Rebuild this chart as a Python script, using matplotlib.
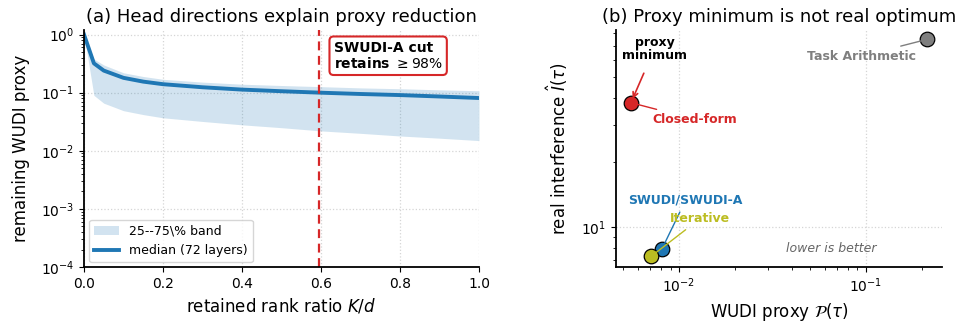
import matplotlib
matplotlib.use("Agg")
from matplotlib import pyplot as plt
from matplotlib import ticker

# Panel (a): remaining WUDI proxy vs retained rank ratio
ratio = [0, 0.025, 0.05, 0.1, 0.15, 0.2, 0.3, 0.4, 0.5, 0.6, 0.7, 0.8, 0.9, 1.0]
mediana = [1.0, 0.32, 0.24, 0.18, 0.155, 0.14, 0.124, 0.113, 0.106, 0.100, 0.095, 0.091, 0.086, 0.081]
q75 = [1.0, 0.38, 0.30, 0.22, 0.19, 0.17, 0.152, 0.14, 0.133, 0.127, 0.121, 0.117, 0.112, 0.108]
q25 = [1.0, 0.09, 0.066, 0.049, 0.042, 0.037, 0.032, 0.028, 0.025, 0.022, 0.020, 0.018, 0.0165, 0.015]
corte = 0.595

# Panel (b): proxy vs real interference
metodos = ["Task Arithmetic", "Closed-form", "SWUDI/SWUDI-A", "Iterative"]
proxy = [0.212, 0.00553, 0.0081, 0.0071]
real = [75.0, 38.0, 7.9, 7.3]
colores = ["#7f7f7f", "#d62728", "#1f77b4", "#bcbd22"]
# desplazamiento de las etiquetas (puntos)
offsets = [(-47, -12), (46, -12), (17, 35), (35, 27)]

azul = "#1f77b4"
rojo = "#d62728"

fig = plt.figure(figsize=(9.57, 3.33), dpi=100)
ax1 = fig.add_axes([0.0878, 0.198, 0.4127, 0.712])
ax2 = fig.add_axes([0.6437, 0.198, 0.3406, 0.712])

for ax in (ax1, ax2):
    ax.spines["top"].set_visible(False)
    ax.spines["right"].set_visible(False)
    ax.spines["left"].set_linewidth(1.3)
    ax.spines["bottom"].set_linewidth(1.3)
    ax.tick_params(labelsize=10)
    ax.grid(True, which="major", linestyle=":", color="#d5d5d5", linewidth=0.9)
    ax.set_axisbelow(True)

# ---- panel a
ax1.fill_between(ratio, q25, q75, color=azul, alpha=0.2, linewidth=0, label="25--75\\% band")
ax1.plot(ratio, mediana, color=azul, linewidth=2.8, label="median (72 layers)")
ax1.axvline(corte, color=rojo, linestyle="--", linewidth=1.6, dashes=(4, 2.5))
ax1.set_yscale("log")
ax1.set_xlim(0, 1.0)
ax1.set_ylim(1e-4, 1.2)
ax1.yaxis.set_minor_formatter(ticker.NullFormatter())
ax1.set_xlabel("retained rank ratio $K/d$", fontsize=12)
ax1.set_ylabel("remaining WUDI proxy", fontsize=12, labelpad=8)
ax1.set_title("(a) Head directions explain proxy reduction", fontsize=13)
ax1.text(0.632, 0.955, "SWUDI-A cut\nretains $\\geq 98\\%$", transform=ax1.transAxes,
         ha="left", va="top", fontsize=10, fontweight="bold", linespacing=1.1,
         bbox=dict(boxstyle="round,pad=0.3", fc="white", ec=rojo, lw=1.5))
ax1.legend(loc="lower left", fontsize=9, frameon=True, handlelength=2.0,
           borderaxespad=0.4, fancybox=True)

# ---- panel b
ax2.set_xscale("log")
ax2.set_yscale("log")
for i in range(len(metodos)):
    ax2.scatter(proxy[i], real[i], s=110, color=colores[i], edgecolor="black",
                linewidth=0.9, zorder=3)
    ax2.annotate(metodos[i], (proxy[i], real[i]), xytext=offsets[i],
                 textcoords="offset points", ha="center", va="center",
                 fontsize=9, fontweight="bold", color=colores[i],
                 arrowprops=dict(arrowstyle="-", color=colores[i], lw=1.0,
                                 shrinkA=2, shrinkB=4))
ax2.annotate("proxy\nminimum", (proxy[1], real[1]), xytext=(17, 39),
             textcoords="offset points", ha="center", va="center",
             fontsize=9, fontweight="bold", color="black", linespacing=1.0,
             arrowprops=dict(arrowstyle="->", color=rojo, lw=1.2,
                             shrinkA=7, shrinkB=3))
ax2.text(0.66, 0.08, "lower is better", transform=ax2.transAxes, ha="center",
         va="center", fontsize=9, style="italic", color="#666666")
ax2.set_xlim(0.0046, 0.255)
ax2.set_ylim(6.5, 83)
ax2.xaxis.set_minor_formatter(ticker.NullFormatter())
ax2.yaxis.set_minor_formatter(ticker.NullFormatter())
ax2.set_xlabel("WUDI proxy $\\mathcal{P}(\\tau)$", fontsize=12)
ax2.set_ylabel("real interference $\\hat{I}(\\tau)$", fontsize=12, labelpad=8)
ax2.set_title("(b) Proxy minimum is not real optimum", fontsize=13)

fig.savefig("out.png", dpi=100)
